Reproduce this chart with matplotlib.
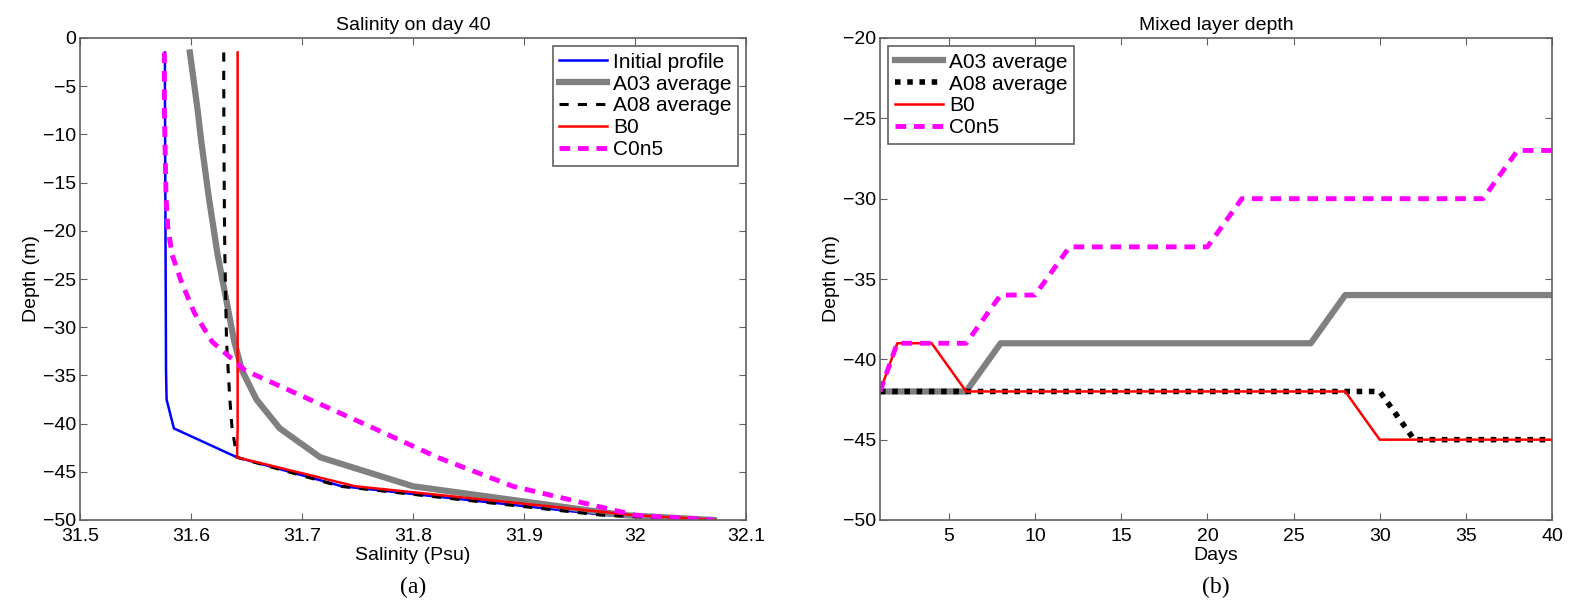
import numpy as np
import matplotlib
matplotlib.use("Agg")
import matplotlib.pyplot as plt

plt.rcParams.update({
    "font.family": ["Liberation Sans", "DejaVu Sans"],
    "font.size": 14,
    "axes.edgecolor": "#606060",
    "axes.linewidth": 1.2,
    "xtick.direction": "in", "ytick.direction": "in",
    "xtick.top": True, "ytick.right": True,
    "xtick.color": "#606060", "ytick.color": "#606060",
    "xtick.labelcolor": "black", "ytick.labelcolor": "black",
    "xtick.major.size": 5, "ytick.major.size": 5,
    "xtick.major.pad": 6, "ytick.major.pad": 3,
    "xtick.labelsize": 14, "ytick.labelsize": 14,
})

# (a) salinity profiles on day 40
depth = [-1.5, -4.5, -7.5, -10.5, -13.5, -16.5, -19.5, -22.5, -25.5, -28.5,
         -31.5, -34.5, -37.5, -40.5, -43.5, -46.5, -49.5, -50.0]
sal_init = [31.5765, 31.5765, 31.5766, 31.5767, 31.5768, 31.5769, 31.577,
            31.5771, 31.5772, 31.5773, 31.5774, 31.5775, 31.578, 31.5846,
            31.6415, 31.736, 31.975, 32.071]
sal_a03 = [31.599, 31.6025, 31.606, 31.609, 31.6125, 31.616, 31.620, 31.624,
           31.629, 31.634, 31.639, 31.646, 31.659, 31.680, 31.7165, 31.80,
           31.99, 32.071]
sal_a08 = [31.6295, 31.6295, 31.6296, 31.6297, 31.6298, 31.630, 31.6302,
           31.6305, 31.631, 31.6315, 31.632, 31.6335, 31.635, 31.637, 31.6415,
           31.734, 31.97, 32.071]
sal_b0 = [31.642] * 14 + [31.6415, 31.748, 31.999, 32.073]
sal_c0n5 = [31.576, 31.576, 31.576, 31.5765, 31.577, 31.5775, 31.579, 31.583,
            31.592, 31.603, 31.619, 31.649, 31.707, 31.765, 31.822, 31.89,
            32.0, 32.071]

# (b) mixed layer depth
days = [1, 2, 4, 6, 8, 10, 12, 14, 16, 18, 20, 22, 24, 26, 28, 30, 32, 34,
        36, 38, 40]
mld_a03 = [-42, -42, -42, -42, -39, -39, -39, -39, -39, -39, -39, -39, -39,
           -39, -36, -36, -36, -36, -36, -36, -36]
mld_a08 = [-42] * 16 + [-45] * 5
mld_b0 = [-42, -39, -39, -42, -42, -42, -42, -42, -42, -42, -42, -42, -42,
          -42, -42, -45, -45, -45, -45, -45, -45]
mld_c0n5 = [-42, -39, -39, -39, -36, -36, -33, -33, -33, -33, -33, -30, -30,
            -30, -30, -30, -30, -30, -30, -27, -27]

fig = plt.figure(figsize=(15.73, 6.07), dpi=100)
ax1 = fig.add_axes([80 / 1573, 87 / 607, 666 / 1573, 482 / 607])
ax2 = fig.add_axes([880 / 1573, 87 / 607, 672 / 1573, 482 / 607])

legend_kw = dict(fontsize=15, handlelength=2.3, handletextpad=0.3,
                 labelspacing=0.14, borderpad=0.3, borderaxespad=0.4,
                 fancybox=False, framealpha=1)

ax1.plot(sal_init, depth, color="#0000ff", lw=1.8, label="Initial profile")
ax1.plot(sal_a03, depth, color="#808080", lw=4.5, label="A03 average")
ax1.plot(sal_a08, depth, color="black", lw=2.2, ls=(0, (3, 3)),
         label="A08 average")
ax1.plot(sal_b0, depth, color="#ff0000", lw=1.8, label="B0")
ax1.plot(sal_c0n5, depth, color="#ff00ff", lw=3.5, ls=(0, (2.2, 1.6)),
         label="C0n5")
ax1.set_xlim(31.5, 32.1)
ax1.set_ylim(-50, 0)
ax1.set_xticks(np.arange(31.5, 32.11, 0.1))
ax1.set_xticklabels(["31.5", "31.6", "31.7", "31.8", "31.9", "32", "32.1"])
ax1.set_yticks(np.arange(-50, 1, 5))
ax1.set_xlabel("Salinity (Psu)", labelpad=1)
ax1.set_ylabel("Depth (m)", labelpad=2)
ax1.set_title("Salinity on day 40", fontsize=14, pad=6)
leg1 = ax1.legend(loc="upper right", **legend_kw)
leg1.get_frame().set_edgecolor("#606060")
leg1.get_frame().set_linewidth(1.2)

ax2.plot(days, mld_a03, color="#808080", lw=4.5, label="A03 average")
ax2.plot(days, mld_a08, color="black", lw=4, ls=(0, (1, 1.2)),
         label="A08 average")
ax2.plot(days, mld_b0, color="#ff0000", lw=1.8, label="B0")
ax2.plot(days, mld_c0n5, color="#ff00ff", lw=3.5, ls=(0, (2.2, 1.6)),
         label="C0n5")
ax2.set_xlim(1, 40)
ax2.set_ylim(-50, -20)
ax2.set_xticks(np.arange(5, 41, 5))
ax2.set_yticks(np.arange(-50, -19, 5))
ax2.set_xlabel("Days", labelpad=1)
ax2.set_ylabel("Depth (m)", labelpad=2)
ax2.set_title("Mixed layer depth", fontsize=14, pad=6)
leg2 = ax2.legend(loc="upper left", **legend_kw)
leg2.get_frame().set_edgecolor("#606060")
leg2.get_frame().set_linewidth(1.2)

for ax, tag in ((ax1, "(a)"), (ax2, "(b)")):
    ax.text(0.5, -0.118, tag, transform=ax.transAxes, ha="center", va="top",
            fontsize=17, family=["Liberation Serif", "DejaVu Serif"])

fig.savefig("out.png", dpi=100)
